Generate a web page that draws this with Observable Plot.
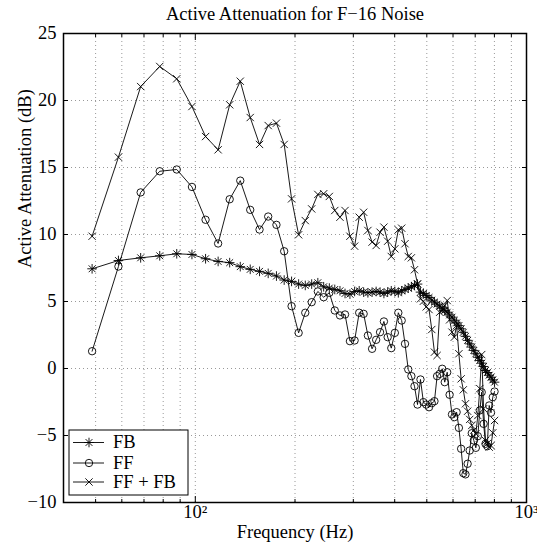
<!DOCTYPE html>
<html><head><meta charset="utf-8">
<script src="https://cdn.jsdelivr.net/npm/d3@7"></script>
<script src="https://cdn.jsdelivr.net/npm/@observablehq/plot@0.6"></script>
<style>body{margin:0;background:#fff} svg{display:block}</style>
</head><body><div id="chart"></div>
<script>
// Frequencies (Hz) of the measured bins
const freqs = [48.8, 58.6, 68.4, 78.1, 87.9, 97.7, 107.4, 117.2, 127.0, 136.7,
  146.5, 156.3, 166.0, 175.8, 185.5, 195.3, 205.1, 214.8, 224.6, 234.4,
  244.1, 253.9, 263.7, 273.4, 283.2, 293.0, 302.7, 312.5, 322.3, 332.0,
  341.8, 351.6, 361.3, 371.1, 380.9, 390.6, 400.4, 410.2, 419.9, 429.7,
  439.5, 449.2, 459.0, 468.8, 478.5, 488.3, 498.0, 507.8, 517.6, 527.3,
  537.1, 546.9, 556.6, 566.4, 576.2, 585.9, 595.7, 605.5, 615.2, 625.0,
  634.8, 644.5, 654.3, 664.1, 673.8, 683.6, 693.4, 703.1, 712.9, 722.7,
  732.4, 742.2, 752.0, 761.7, 771.5, 781.3, 791.0, 800.8];

const fbValues = [7.44, 8.06, 8.26, 8.41, 8.56, 8.51, 8.19, 7.99, 7.9, 7.6,
  7.4, 7.25, 7.1, 6.9, 6.6, 6.5, 6.3, 6.2, 6.3, 6.4,
  6.1, 6.0, 5.9, 5.8, 5.6, 5.55, 5.75, 5.8, 5.7, 5.65,
  5.7, 5.75, 5.7, 5.6, 5.7, 5.8, 5.75, 5.65, 5.8, 5.9,
  6.0, 6.1, 6.2, 6.3, 5.7, 5.6, 5.45, 5.3, 5.1, 4.95,
  4.8, 4.65, 4.5, 4.33, 4.2, 4.0, 3.83, 3.6, 3.4, 3.2,
  2.96, 2.7, 2.4, 2.1, 1.84, 1.6, 1.35, 1.1, 0.84, 0.6,
  0.4, 0.15, -0.15, -0.3, -0.5, -0.65, -0.85, -1.02];

const ffValues = [1.29, 7.61, 13.14, 14.72, 14.85, 13.55, 11.1, 9.33, 12.63, 14.02,
  11.84, 10.37, 11.34, 10.72, 8.75, 4.65, 2.66, 4.16, 4.95, 5.75,
  5.32, 5.65, 4.33, 3.96, 4.03, 2.04, 2.09, 4.16, 4.08, 2.46,
  1.47, 2.14, 2.71, 3.51, 2.34, 1.52, 2.66, 4.16, 3.58, 1.84,
  -0.07, -0.57, -1.32, -2.69, -0.82, -2.51, -2.69, -2.89, -2.59, -2.44,
  -0.57, -0.40, -0.02, -1.02, -0.28, -1.96, -3.43, -3.63, -3.26, -4.43,
  -5.99, -7.81, -7.9, -7.11, -6.12, -4.83, -5.37, -5.92, -5.05, -3.13,
  -1.77, -4.13, -5.62, -5.8, -2.76, -3.3, -2.14, -1.72];

const fffbValues = [9.87, 15.77, 21.04, 22.54, 21.62, 19.55, 17.31, 16.32, 19.68, 21.44,
  18.73, 16.72, 18.13, 18.31, 16.72, 12.66, 9.98, 11.04, 11.91, 12.99,
  13.04, 12.84, 11.79, 11.29, 11.79, 9.87, 9.13, 11.29, 11.66, 10.30,
  9.43, 9.18, 10.17, 10.55, 9.50, 8.36, 8.93, 10.35, 10.47, 9.31,
  8.36, 8.26, 7.37, 6.32, 5.2, 5.02, 4.6, 4.4, 2.91, 1.22,
  0.97, 4.2, 4.33, 4.7, 5.07, 3.63, 2.71, 2.34, 3.21, 1.1,
  -0.77, -1.59, -2.63, -3.19, -3.8, -4.25, -4.6, -4.87, -3.51, -1.5,
  1.04, -3.0, -5.37, -5.6, -5.87, -5.75, -4.8, -3.88];

const seriesNames = ["FB", "FF", "FF + FB"];
const xMajorTicks = [100, 1000];
const xMajorLabels = ["10²", "10³"];
const xMinorTicks = [50, 60, 70, 80, 90, 200, 300, 400, 500, 600, 700, 800, 900];
const xGridValues = [50, 60, 70, 80, 90, 100, 200, 300, 400, 500, 600, 700, 800, 900];
const yTicks = [-10, -5, 0, 5, 10, 15, 20, 25];
const yGridValues = [-5, 0, 5, 10, 15, 20];
const titleText = "Active Attenuation for F\u221216 Noise";
const xLabel = "Frequency (Hz)";
const yLabel = "Active Attenuation (dB)";

const rows = vals => freqs.map((f, i) => ({f, v: vals[i]}));
const fbRows = rows(fbValues), ffRows = rows(ffValues), fffbRows = rows(fffbValues);

const FONT = "'Liberation Serif','Times New Roman',Times,serif";
const FS = 18.5;
const sw = 0.9;
const gridStyle = {stroke: "#555", strokeOpacity: 0.6, strokeDasharray: "1,3", strokeWidth: 1};
const fmtY = d => d < 0 ? "\u2212" + Math.abs(d) : String(d);

const plot = Plot.plot({
  width: 537, height: 552,
  marginTop: 33, marginLeft: 63, marginRight: 11, marginBottom: 50,
  style: {fontFamily: FONT, fontSize: FS + "px", color: "black", background: "white", overflow: "visible"},
  x: {type: "log", domain: [40, 1000], label: null},
  y: {domain: [-10, 25], label: null},
  marks: [
    Plot.gridX(xGridValues, gridStyle),
    Plot.gridY(yGridValues, gridStyle),
    Plot.axisX({ticks: xMajorTicks, anchor: "bottom", tickSize: 0, tickPadding: 2, fontSize: FS,
      tickFormat: d => xMajorLabels[xMajorTicks.indexOf(d)], label: null}),
    Plot.axisX({ticks: xMajorTicks, anchor: "bottom", tickSize: -6, tickFormat: () => "", label: null}),
    Plot.axisX({ticks: xMajorTicks, anchor: "top", tickSize: -6, tickFormat: () => "", label: null}),
    Plot.axisX({ticks: xMinorTicks, anchor: "bottom", tickSize: -3, tickFormat: () => "", label: null}),
    Plot.axisX({ticks: xMinorTicks, anchor: "top", tickSize: -3, tickFormat: () => "", label: null}),
    Plot.axisY({ticks: yTicks, anchor: "left", tickSize: 0, tickPadding: 7, fontSize: FS, tickFormat: fmtY, label: null}),
    Plot.axisY({ticks: yTicks, anchor: "left", tickSize: -5, tickFormat: () => "", label: null}),
    Plot.axisY({ticks: yTicks, anchor: "right", tickSize: -5, tickFormat: () => "", label: null}),
    Plot.line(fbRows, {x: "f", y: "v", stroke: "black", strokeWidth: sw}),
    Plot.dot(fbRows, {x: "f", y: "v", symbol: "plus", r: 3.2, stroke: "black", strokeWidth: sw}),
    Plot.dot(fbRows, {x: "f", y: "v", symbol: "times", r: 3.2, stroke: "black", strokeWidth: sw}),
    Plot.line(ffRows, {x: "f", y: "v", stroke: "black", strokeWidth: sw}),
    Plot.dot(ffRows, {x: "f", y: "v", symbol: "circle", r: 3.7, stroke: "black", strokeWidth: sw}),
    Plot.line(fffbRows, {x: "f", y: "v", stroke: "black", strokeWidth: sw}),
    Plot.dot(fffbRows, {x: "f", y: "v", symbol: "times", r: 3.4, stroke: "black", strokeWidth: sw}),
    Plot.frame({stroke: "black", strokeWidth: 1.5}),
    Plot.text([titleText], {frameAnchor: "top", dy: -14, lineAnchor: "bottom", fontSize: FS}),
    Plot.text([xLabel], {frameAnchor: "bottom", dy: 35, lineAnchor: "bottom", fontSize: FS}),
    Plot.text([yLabel], {frameAnchor: "left", dx: -33, rotate: -90, lineAnchor: "bottom", fontSize: FS})
  ]
});

// Legend (inside lower-left of the frame)
const svg = d3.select(plot);
const lg = svg.append("g").attr("font-family", FONT).attr("font-size", FS).attr("text-anchor", "start");
lg.append("rect").attr("x", 69).attr("y", 430).attr("width", 119).attr("height", 65)
  .attr("fill", "white").attr("stroke", "black").attr("stroke-width", 1);
const legendSymbols = [
  [d3.symbolPlus, d3.symbolTimes],
  [d3.symbolCircle],
  [d3.symbolTimes]
];
const legendR = [3.2, 3.7, 3.4];
const legendY = [442.5, 463, 482];
seriesNames.forEach((name, i) => {
  const y = legendY[i];
  lg.append("line").attr("x1", 73).attr("x2", 104).attr("y1", y).attr("y2", y)
    .attr("stroke", "black").attr("stroke-width", sw);
  legendSymbols[i].forEach(t => {
    lg.append("path").attr("d", d3.symbol(t, Math.PI * legendR[i] * legendR[i])())
      .attr("transform", `translate(89,${y})`).attr("fill", "none")
      .attr("stroke", "black").attr("stroke-width", sw);
  });
  lg.append("text").attr("x", 113).attr("y", y).attr("dy", "0.32em")
    .attr("text-anchor", "start").attr("fill", "black").text(name);
});

document.getElementById("chart").appendChild(plot);
</script>
</body></html>
